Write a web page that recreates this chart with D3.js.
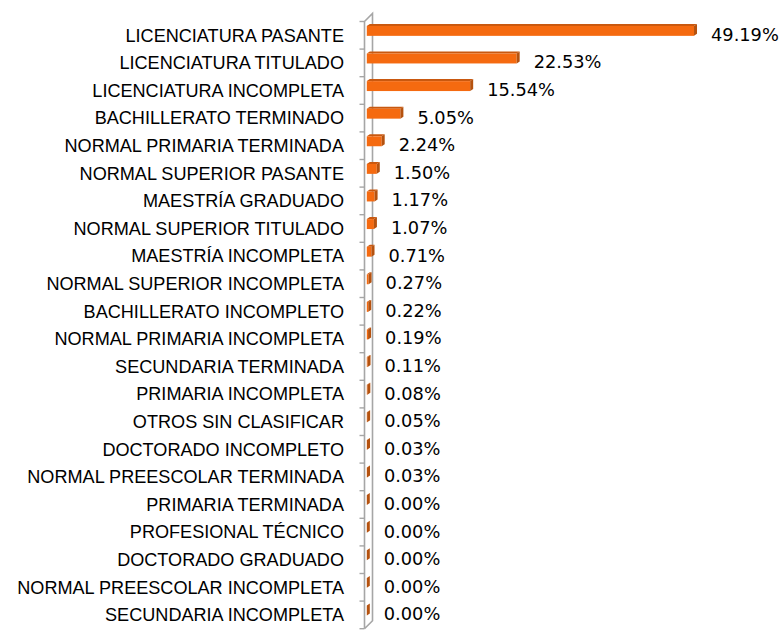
<!DOCTYPE html>
<html>
<head>
<meta charset="utf-8">
<script src="https://cdn.jsdelivr.net/npm/d3@7/dist/d3.min.js"></script>
<style>
  html, body { margin: 0; padding: 0; background: #ffffff; }
  svg { display: block; }
</style>
</head>
<body>
<script>
// Education level categories, top to bottom
const categories = [
  "LICENCIATURA PASANTE",
  "LICENCIATURA TITULADO",
  "LICENCIATURA INCOMPLETA",
  "BACHILLERATO TERMINADO",
  "NORMAL PRIMARIA TERMINADA",
  "NORMAL SUPERIOR PASANTE",
  "MAESTRÍA GRADUADO",
  "NORMAL SUPERIOR TITULADO",
  "MAESTRÍA INCOMPLETA",
  "NORMAL SUPERIOR INCOMPLETA",
  "BACHILLERATO INCOMPLETO",
  "NORMAL PRIMARIA INCOMPLETA",
  "SECUNDARIA TERMINADA",
  "PRIMARIA INCOMPLETA",
  "OTROS SIN CLASIFICAR",
  "DOCTORADO INCOMPLETO",
  "NORMAL PREESCOLAR TERMINADA",
  "PRIMARIA TERMINADA",
  "PROFESIONAL TÉCNICO",
  "DOCTORADO GRADUADO",
  "NORMAL PREESCOLAR INCOMPLETA",
  "SECUNDARIA INCOMPLETA"
];

// Share of each category, in percent
const percentages = [
  49.19, 22.53, 15.54, 5.05, 2.24, 1.50, 1.17, 1.07, 0.71, 0.27, 0.22,
  0.19, 0.11, 0.08, 0.05, 0.03, 0.03, 0.00, 0.00, 0.00, 0.00, 0.00
];

const valueLabels = percentages.map(v => v.toFixed(2) + "%");

const W = 782, H = 630;
const svg = d3.select("body").append("svg")
  .attr("width", W).attr("height", H);

// Scales
const x = d3.scaleLinear().domain([0, 50]).range([366.8, 699.4]);
const y = d3.scaleBand().domain(categories).range([21.5, 628.7]).padding(0);
const bw = y.bandwidth();

// 3D wall geometry (front edge and receding back edge)
const axisX = 364.5, wallDx = 8, wallDy = -8;
const yTop = y.range()[0], yBot = y.range()[1];

const wall = svg.append("g")
  .attr("fill", "none")
  .attr("stroke", "#a6a6a6")
  .attr("stroke-width", 1.6);
wall.append("path").attr("d",
  `M${axisX},${yBot} L${axisX},${yTop} L${axisX + wallDx},${yTop + wallDy} L${axisX + wallDx},${yBot + wallDy} L${axisX},${yBot}`);

// Category tick marks on the front edge
const tickYs = categories.map(c => y(c)).concat([yBot]);
svg.append("g").selectAll("line").data(tickYs).join("line")
  .attr("x1", axisX - 5).attr("x2", axisX)
  .attr("y1", d => d).attr("y2", d => d)
  .attr("stroke", "#a6a6a6").attr("stroke-width", 1.4);

// Category labels
svg.append("g").selectAll("text").data(categories).join("text")
  .attr("x", 344)
  .attr("y", d => y(d) + bw / 2)
  .attr("dy", "0.35em")
  .attr("text-anchor", "end")
  .attr("font-family", "'Liberation Sans', Arial, sans-serif")
  .attr("font-size", 18.1)
  .attr("fill", "#000")
  .text(d => d);

// 3D bars: front face, top face and right side face
const bdx = 3, bdy = -2;
const rows = categories.map((c, i) => ({ c, v: percentages[i], label: valueLabels[i] }));
const bars = svg.append("g").selectAll("g").data(rows).join("g");

bars.each(function(d) {
  const g = d3.select(this);
  const x0 = x(0), x1 = x(d.v);
  const t = y(d.c) + bw * 0.16, h = bw * 0.36;
  if (x1 > x0) {
    g.append("path")
      .attr("d", `M${x0},${t} L${x0 + bdx},${t + bdy} L${x1 + bdx},${t + bdy} L${x1},${t} Z`)
      .attr("fill", "#c9580f");
    g.append("rect")
      .attr("x", x0).attr("y", t)
      .attr("width", x1 - x0).attr("height", h)
      .attr("fill", "#f56a10");
  }
  g.append("path")
    .attr("d", `M${x1},${t} L${x1 + bdx},${t + bdy} L${x1 + bdx},${t + h + bdy} L${x1},${t + h} Z`)
    .attr("fill", "#b5520f");
});

// Value labels
svg.append("g").selectAll("text").data(rows).join("text")
  .attr("x", d => x(d.v) + 17)
  .attr("y", d => y(d.c) + bw / 2 - 1)
  .attr("dy", "0.36em")
  .attr("font-family", "'DejaVu Sans', sans-serif")
  .attr("font-size", 17.8)
  .attr("fill", "#000")
  .text(d => d.label);
</script>
</body>
</html>
